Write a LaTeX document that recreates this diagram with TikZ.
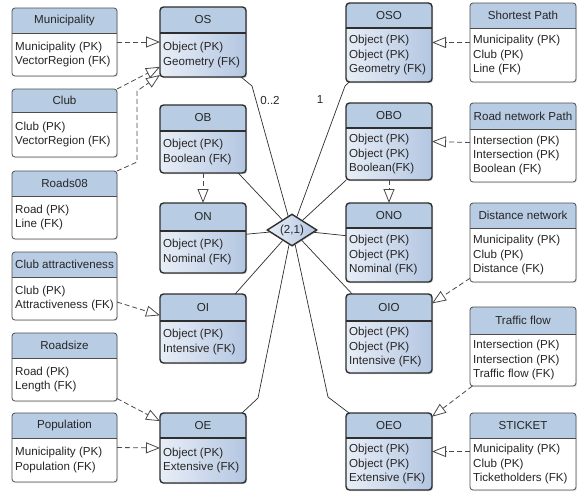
\documentclass[tikz,border=0pt]{standalone}
\usepackage{fontspec}
\setmainfont{Liberation Sans}
\usetikzlibrary{positioning,shapes.geometric,arrows.meta,shadows}

\definecolor{hdrblue}{HTML}{B8CCE4}
\definecolor{objlight}{HTML}{E8EEF7}
\definecolor{objdark}{HTML}{B3C6E1}
\definecolor{edgegray}{HTML}{2E2E2E}
\definecolor{linkgray}{HTML}{4A4A4A}
\definecolor{textgray}{HTML}{262626}

\tikzset{
  objtab/.style={rounded corners=3.5pt, left color=objlight, right color=objdark,
    drop shadow={opacity=0.35,shadow xshift=1.2pt,shadow yshift=-1.2pt}},
  objedge/.style={draw=edgegray, line width=1.4pt, rounded corners=3.5pt},
  reltab/.style={rounded corners=3pt, fill=white,
    drop shadow={opacity=0.2,shadow xshift=1pt,shadow yshift=-1pt}},
  reledge/.style={draw=edgegray!85, line width=0.8pt, rounded corners=3pt},
  isa/.style={draw=linkgray, line width=0.8pt, dash pattern=on 5pt off 3pt,
    -{Triangle[open,length=14pt,width=11pt]}},
  link/.style={draw=edgegray, line width=0.7pt},
}

% #1 name, #2 obj/rel, #3 left, #4 top, #5 right, #6 header bottom, #7 bottom, #8 title, #9 fields
\newcommand{\entity}[9]{%
  \node[#2tab, anchor=north west, inner sep=0pt, outer sep=0pt,
        minimum width={(#5-#3)*1pt}, minimum height={(#7-#4)*1pt}] (#1) at (#3,#4) {};
  \begin{scope}
    \clip[rounded corners=3pt] (#1.north west) rectangle (#1.south east);
    \fill[hdrblue] (#3,#4) rectangle (#5,#6);
  \end{scope}
  \draw[#2edge] (#1.north west) rectangle (#1.south east);
  \draw[#2edge] (#3,#6) -- (#5,#6);
  \node (#1-title) at ({(#3+#5)/2},{(#4+#6)/2}) {#8};
  \node[anchor=west, align=left, inner sep=2pt] (#1-body) at ({#3+1},{(#6+#7)/2}) {#9};
}

\begin{document}
\begin{tikzpicture}[x=1pt,y=-1pt,
    every node/.style={font=\fontsize{11.6}{14.2}\selectfont, text=textgray}]
  \fill[white] (0,0) rectangle (580,493);
  \useasboundingbox (0,0) rectangle (580,493);

  % source tables, left
  \entity{mun}{rel}{12}{8}{117}{33}{76}{Municipality}{Municipality (PK)\\VectorRegion (FK)}
  \entity{club}{rel}{12}{89}{117}{112}{157}{Club}{Club (PK)\\VectorRegion (FK)}
  \entity{rds}{rel}{12}{171}{117}{196}{239}{Roads08}{Road (PK)\\Line (FK)}
  \entity{catt}{rel}{12}{252}{117}{277}{320}{Club attractiveness}{Club (PK)\\Attractiveness (FK)}
  \entity{rsz}{rel}{12}{333}{117}{358}{401}{Roadsize}{Road (PK)\\Length (FK)}
  \entity{pop}{rel}{12}{413}{117}{438}{482}{Population}{Municipality (PK)\\Population (FK)}

  % object tables
  \entity{os}{obj}{160}{7}{246}{33}{77}{OS}{Object (PK)\\Geometry (FK)}
  \entity{ob}{obj}{160}{105}{246}{131}{173}{OB}{Object (PK)\\Boolean (FK)}
  \entity{on}{obj}{160}{203}{246}{231}{273}{ON}{Object (PK)\\Nominal (FK)}
  \entity{oi}{obj}{160}{294}{246}{321}{363}{OI}{Object (PK)\\Intensive (FK)}
  \entity{oe}{obj}{160}{413}{246}{438}{483}{OE}{Object (PK)\\Extensive (FK)}

  % object-object tables
  \entity{oso}{obj}{346}{3}{432}{28}{82}{OSO}{Object (PK)\\Object (PK)\\Geometry (FK)}
  \entity{obo}{obj}{346}{103}{432}{128}{180}{OBO}{Object (PK)\\Object (PK)\\Boolean(FK)}
  \entity{ono}{obj}{346}{203}{432}{228}{282}{ONO}{Object (PK)\\Object (PK)\\Nominal (FK)}
  \entity{oio}{obj}{346}{294}{432}{321}{373}{OIO}{Object (PK)\\Object (PK)\\Intensive (FK)}
  \entity{oeo}{obj}{346}{413}{432}{438}{490}{OEO}{Object (PK)\\Object (PK)\\Extensive (FK)}

  % source tables, right
  \entity{sp}{rel}{470}{3}{576}{28}{82}{Shortest Path}{Municipality (PK)\\Club (PK)\\Line (FK)}
  \entity{rnp}{rel}{470}{103}{576}{129}{182}{Road network Path}{Intersection (PK)\\Intersection (PK)\\Boolean (FK)}
  \entity{dn}{rel}{470}{203}{576}{228}{282}{Distance network}{Municipality (PK)\\Club (PK)\\Distance (FK)}
  \entity{tf}{rel}{470}{307}{576}{334}{386}{Traffic flow}{Intersection (PK)\\Intersection (PK)\\Traffic flow (FK)}
  \entity{stk}{rel}{470}{413}{576}{438}{490}{STICKET}{Municipality (PK)\\Club (PK)\\Ticketholders (FK)}

  % relationship
  \node[diamond, aspect=1.6, minimum width=50pt, minimum height=32pt, inner sep=0pt,
        left color=objlight, right color=objdark, draw=edgegray, line width=1.4pt,
        drop shadow={opacity=0.3,shadow xshift=1pt,shadow yshift=-1pt}] (dia) at (292,230) {(2,1)};
  \draw[link] ([xshift=-5pt]os.south east) -- ++(11,9) -- (dia);
  \draw[link] ([xshift=3pt]oso.south west) -- ++(-4,4) -- (dia);
  \draw[link] (ob.-44) -- (dia);
  \draw[link] (obo.222) -- (dia);
  \draw[link] (on.5) -- (dia);
  \draw[link] (ono.171) -- (dia);
  \draw[link] (oi.47) -- (dia);
  \draw[link] (oio.133) -- (dia);
  \draw[link] ([xshift=-4pt]oe.north east) -- ++(16,-15) -- (dia);
  \draw[link] ([xshift=3pt]oeo.north west) -- ++(-21,-16) -- (dia);
  \node (card-os) at (270,101) {0..2};
  \node (card-oso) at (320,100) {1};

  % inheritance
  \draw[isa] (mun.east) -- (os.west);
  \draw[isa] (club.north east) -- (os.210);
  \draw[isa] (rds.north east) -- ++(20,-9) -- ++(0,-71) -- ([yshift=2pt]os.south west);
  \draw[isa] (ob.south) -- (on.north);
  \draw[isa] (catt.-17) -- (oi.163);
  \draw[isa] (rsz.-31) -- (oe.148);
  \draw[isa] (pop.east) -- (oe.west);
  \draw[isa] (sp.west) -- (oso.east);
  \draw[isa] (rnp.west) -- (obo.east);
  \draw[isa] (obo.south) -- (ono.north);
  \draw[isa] (dn.214) -- (oio.35);
  \draw[isa] (tf.218) -- (oeo.39);
  \draw[isa] (stk.west) -- (oeo.east);
\end{tikzpicture}
\end{document}
